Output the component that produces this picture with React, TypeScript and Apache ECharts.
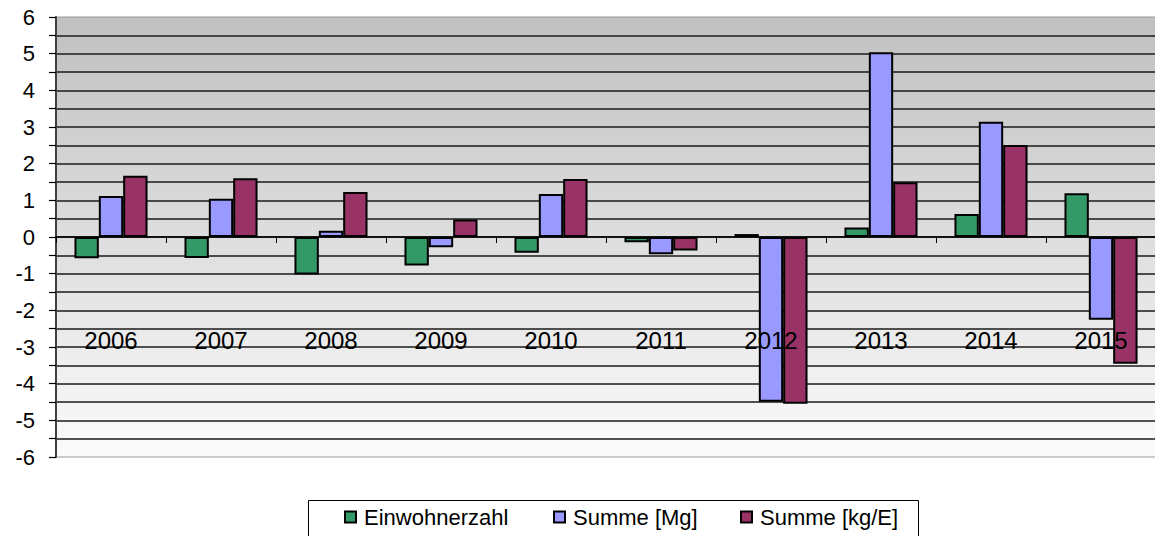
import React, { useEffect, useRef } from "react";
import * as echarts from "echarts";

const categories = ["2006", "2007", "2008", "2009", "2010", "2011", "2012", "2013", "2014", "2015"];
const einwohnerzahl = [-0.58, -0.57, -1.02, -0.78, -0.43, -0.14, 0.08, 0.26, 0.63, 1.19];
const summeMg = [1.12, 1.04, 0.17, -0.28, 1.17, -0.47, -4.49, 5.04, 3.14, -2.26];
const summeKgE = [1.67, 1.6, 1.23, 0.48, 1.58, -0.37, -4.55, 1.49, 2.51, -3.46];
const seriesNames = ["Einwohnerzahl", "Summe [Mg]", "Summe [kg/E]"];
const seriesColors = ["#339966", "#9999ff", "#993366"];

const FONT = 'Arial, "Liberation Sans", sans-serif';

export default function App() {
  const ref = useRef<HTMLDivElement>(null);
  useEffect(() => {
    document.body.style.margin = "0";
    if (!ref.current) return;
    const chart = echarts.init(ref.current, null, { renderer: "svg" });
    const data = [einwohnerzahl, summeMg, summeKgE];
    const legendLeft = [344, 553, 740];
    chart.setOption({
      animation: false,
      backgroundColor: "#ffffff",
      grid: {
        left: 56,
        top: 17,
        width: 1100,
        height: 440,
        outerBoundsMode: "none",
        containLabel: false,
        show: true,
        borderColor: "#999999",
        borderWidth: 1,
        backgroundColor: new echarts.graphic.LinearGradient(0, 0, 0, 1, [
          { offset: 0, color: "#c0c0c0" },
          { offset: 1, color: "#fbfbfb" },
        ]),
      },
      legend: seriesNames.map((n, i) => ({
        data: [n],
        left: legendLeft[i],
        top: 506,
        padding: 0,
        itemWidth: 11,
        itemHeight: 11,
        itemGap: 6,
        icon: "rect",
        textStyle: { fontFamily: FONT, fontSize: 22, color: "#000", padding: [0, 0, 0, 3] },
      })),
      graphic: [
        {
          type: "rect",
          shape: { x: 308.5, y: 500.5, width: 610, height: 60 },
          style: { fill: "none", stroke: "#000", lineWidth: 1 },
          silent: true,
        },
      ],
      xAxis: {
        type: "category",
        data: categories,
        z: 10,
        axisLine: { onZero: true, lineStyle: { color: "#000", width: 1.6 } },
        axisTick: { show: true, length: 6, lineStyle: { color: "#000", width: 1 } },
        axisLabel: {
          margin: -129,
          fontFamily: FONT,
          fontSize: 24,
          lineHeight: 24,
          color: "#000",
        },
        splitLine: { show: false },
      },
      yAxis: {
        type: "value",
        min: -6,
        max: 6,
        interval: 1,
        axisLine: { show: true, lineStyle: { color: "#404040", width: 2 } },
        axisTick: { show: true, length: 7, lineStyle: { color: "#000", width: 1.2 } },
        minorTick: { show: true, splitNumber: 2, length: 7, lineStyle: { color: "#000", width: 1.2 } },
        axisLabel: { margin: 21, fontFamily: FONT, fontSize: 22, color: "#000" },
        splitLine: {
          show: true,
          showMinLine: false,
          showMaxLine: false,
          lineStyle: { color: "#1a1a1a", width: 1.7 },
        },
        minorSplitLine: { show: true, lineStyle: { color: "#1a1a1a", width: 1.7 } },
      },
      series: seriesNames.map((n, i) => ({
        name: n,
        type: "bar",
        data: data[i],
        barGap: "0%",
        barCategoryGap: "33.6%",
        itemStyle: { color: seriesColors[i], borderColor: "#000", borderWidth: 2 },
      })),
    });
    return () => chart.dispose();
  }, []);
  return <div ref={ref} style={{ width: 1155, height: 536 }} />;
}
